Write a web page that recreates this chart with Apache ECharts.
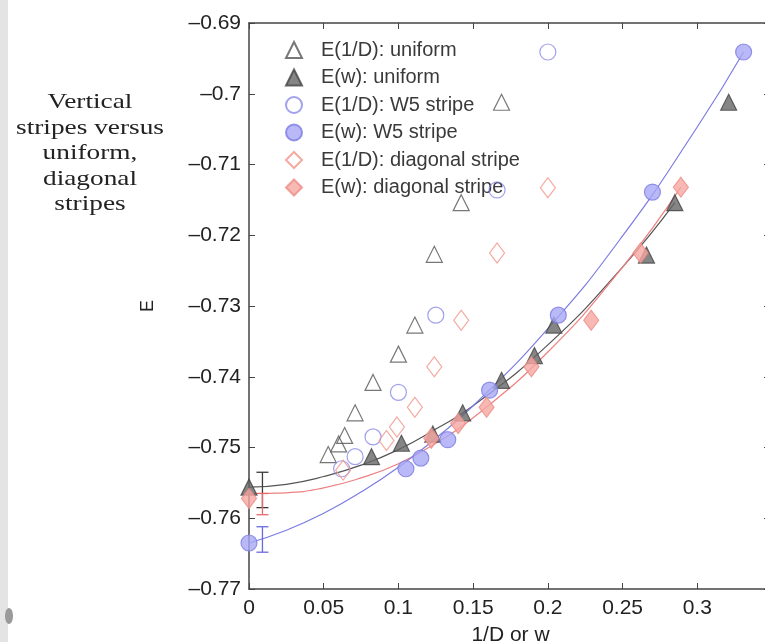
<!DOCTYPE html>
<html>
<head>
<meta charset="utf-8">
<title>Vertical stripes versus uniform, diagonal stripes</title>
<script src="https://cdn.jsdelivr.net/npm/echarts@6/dist/echarts.min.js"></script>
<style>
  html, body { margin: 0; padding: 0; background: #fff; }
  #chart { width: 765px; height: 642px; }
</style>
</head>
<body>
<div id="chart"></div>
<script>
// values: [1/D or w, E]
const uniformInvD = [[0.053, -0.7510], [0.060, -0.7495], [0.064, -0.7483], [0.071, -0.7451], [0.083, -0.7408],
  [0.100, -0.7368], [0.111, -0.7327], [0.124, -0.7227], [0.142, -0.7154], [0.169, -0.7012]];
const uniformW = [[0, -0.7556], [0.082, -0.7513], [0.102, -0.7494], [0.123, -0.7481], [0.143, -0.7451],
  [0.169, -0.7405], [0.191, -0.7370], [0.204, -0.7327], [0.266, -0.7228], [0.285, -0.7154], [0.321, -0.7012]];
const w5InvD = [[0.062, -0.7530], [0.071, -0.7513], [0.083, -0.7485], [0.100, -0.7422], [0.125, -0.7313],
  [0.166, -0.7136], [0.200, -0.6941]];
const w5W = [[0, -0.7635], [0.105, -0.7530], [0.115, -0.7515], [0.133, -0.7489], [0.161, -0.7419],
  [0.207, -0.7313], [0.270, -0.7139], [0.331, -0.6941]];
const diagInvD = [[0.063, -0.7532], [0.092, -0.7490], [0.099, -0.7471], [0.111, -0.7443], [0.124, -0.7386],
  [0.142, -0.7320], [0.166, -0.7225], [0.200, -0.7133]];
const diagW = [[0, -0.7572], [0.122, -0.7487], [0.140, -0.7466], [0.159, -0.7443], [0.189, -0.7386],
  [0.229, -0.7320], [0.262, -0.7225], [0.289, -0.7132]];

// fitted curves, points
const uniformFit = [[0, -0.7556], [0.025, -0.7552], [0.05, -0.7541], [0.075, -0.7525], [0.1, -0.7503],
  [0.125, -0.7474], [0.15, -0.7441], [0.2, -0.7355], [0.25, -0.7245], [0.285, -0.7154]];
const w5Fit = [[0, -0.7635], [0.025, -0.7617], [0.05, -0.7593], [0.075, -0.7563], [0.1, -0.7528],
  [0.125, -0.7487], [0.15, -0.7441], [0.2, -0.7332], [0.25, -0.7201], [0.3, -0.7047], [0.331, -0.6941]];
const diagFit = [[0, -0.7565], [0.025, -0.7564], [0.05, -0.7557], [0.075, -0.7543], [0.1, -0.7523],
  [0.125, -0.7494], [0.15, -0.7458], [0.2, -0.7365], [0.25, -0.7245], [0.289, -0.7132]];

// error bars at the extrapolated values
const errX = [0.009, 0.009, 0.009];
const errLow = [-0.7585, -0.7595, -0.7648];
const errHigh = [-0.7535, -0.7565, -0.7612];
const errColors = ['#3a3a3a', '#e86a6a', '#6a6ae0'];

const legendNames = ['E(1/D): uniform', 'E(w): uniform', 'E(1/D): W5 stripe', 'E(w): W5 stripe',
  'E(1/D): diagonal stripe', 'E(w): diagonal stripe'];

const axisColor = '#444';
const tickFont = { fontFamily: 'Liberation Sans, Arial, sans-serif', fontSize: 21, color: '#222' };

function minusFmt(v) {
  let s = String(+Math.abs(v).toFixed(2));
  return v < 0 ? '\u2013' + s : s;
}

function fitLine(data, color) {
  return {
    type: 'line', data: data, smooth: true, showSymbol: false, silent: true, z: 2,
    lineStyle: { color: color, width: 1.2 }
  };
}

function marks(name, data, symbol, size, fill, border) {
  return {
    name: name, type: 'scatter', data: data, symbol: symbol, symbolSize: size, z: 4,
    itemStyle: { color: fill, borderColor: border, borderWidth: 1.2 }
  };
}

let chart = echarts.init(document.getElementById('chart'));

chart.setOption({
  animation: false,
  backgroundColor: '#fff',
  grid: { left: 249, right: -7, top: 23, bottom: 53, outerBoundsMode: 'none' },
  legend: {
    data: legendNames, orient: 'vertical', left: 280, top: 35,
    itemWidth: 16, itemHeight: 16, itemGap: 7.5,
    textStyle: {
      fontFamily: 'Liberation Sans, Arial, sans-serif', fontSize: 20, color: '#3a3a3a',
      padding: [0, 0, 0, 14]
    }
  },
  xAxis: [{
    type: 'value', min: 0, max: 0.35, interval: 0.05,
    name: '1/D or w', nameLocation: 'middle', nameGap: 36,
    nameTextStyle: { fontFamily: 'Liberation Sans, Arial, sans-serif', fontSize: 21, color: '#222' },
    axisLine: { onZero: false, lineStyle: { color: axisColor, width: 1.5 } },
    axisTick: { inside: true, length: 6, lineStyle: { color: axisColor } },
    axisLabel: Object.assign({ margin: 9, formatter: v => (v > 0.33 ? '' : minusFmt(v)) }, tickFont),
    splitLine: { show: false }
  }, {
    type: 'value', position: 'top', min: 0, max: 0.35, interval: 0.05,
    axisLine: { onZero: false, lineStyle: { color: axisColor, width: 1.5 } },
    axisTick: { inside: true, length: 6, lineStyle: { color: axisColor } },
    axisLabel: { show: false }, splitLine: { show: false }
  }],
  yAxis: [{
    type: 'value', min: -0.77, max: -0.69, interval: 0.01,
    name: 'E', nameLocation: 'middle', nameGap: 92, nameRotate: 90,
    nameTextStyle: { fontFamily: 'Liberation Sans, Arial, sans-serif', fontSize: 18, color: '#222' },
    axisLine: { onZero: false, lineStyle: { color: axisColor, width: 1.5 } },
    axisTick: { inside: true, length: 6, lineStyle: { color: axisColor } },
    axisLabel: Object.assign({ margin: 8, formatter: minusFmt }, tickFont),
    splitLine: { show: false }
  }, {
    type: 'value', position: 'right', min: -0.77, max: -0.69, interval: 0.01,
    axisLine: { onZero: false, lineStyle: { color: axisColor, width: 1.5 } },
    axisTick: { inside: true, length: 8, lineStyle: { color: axisColor } },
    axisLabel: { show: false }, splitLine: { show: false }
  }],
  graphic: [
    { type: 'rect', shape: { x: 0, y: 0, width: 8, height: 642 }, style: { fill: '#e4e4e4' }, silent: true },
    { type: 'ellipse', shape: { cx: 9, cy: 616, rx: 4, ry: 8 }, style: { fill: '#9a9a9a' }, silent: true },
    {
      type: 'text', x: 90, y: 90, scaleX: 1.3, silent: true,
      style: {
        text: 'Vertical\nstripes versus\nuniform,\ndiagonal\nstripes',
        textAlign: 'center', lineHeight: 25.5,
        font: '21px "Liberation Serif", "Times New Roman", serif', fill: '#222'
      }
    }
  ],
  series: [
    fitLine(uniformFit, '#555'),
    fitLine(diagFit, '#ee8080'),
    fitLine(w5Fit, '#7c7ce2'),
    {
      type: 'custom', silent: true, z: 3,
      data: errX.map((x, i) => [x, errLow[i], errHigh[i], i]),
      renderItem: function (params, api) {
        let lo = api.coord([api.value(0), api.value(1)]);
        let hi = api.coord([api.value(0), api.value(2)]);
        let st = { stroke: errColors[api.value(3)], lineWidth: 1.3 };
        let half = 6;
        return {
          type: 'group',
          children: [
            { type: 'line', shape: { x1: lo[0], y1: lo[1], x2: hi[0], y2: hi[1] }, style: st },
            { type: 'line', shape: { x1: lo[0] - half, y1: lo[1], x2: lo[0] + half, y2: lo[1] }, style: st },
            { type: 'line', shape: { x1: hi[0] - half, y1: hi[1], x2: hi[0] + half, y2: hi[1] }, style: st }
          ]
        };
      }
    },
    marks(legendNames[0], uniformInvD, 'triangle', 16, 'rgba(255,255,255,0)', '#555'),
    marks(legendNames[1], uniformW, 'triangle', 16, '#666', '#444'),
    marks(legendNames[2], w5InvD, 'circle', 16, 'rgba(255,255,255,0)', '#8a8ae8'),
    marks(legendNames[3], w5W, 'circle', 16, '#a8a8f6', '#7c7ce2'),
    marks(legendNames[4], diagInvD, 'diamond', [15, 20], 'rgba(255,255,255,0)', '#f0958a'),
    marks(legendNames[5], diagW, 'diamond', [15, 20], '#f6a8a2', '#ec8c86')
  ]
});
</script>
</body>
</html>
